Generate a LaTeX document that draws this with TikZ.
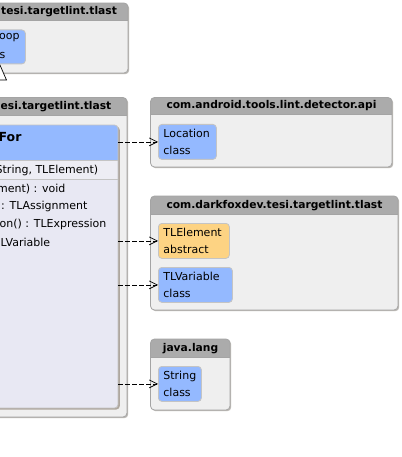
\documentclass[tikz,border=0pt]{standalone}
\usepackage{fontspec}
\setmainfont{DejaVu Sans}
\usetikzlibrary{arrows.meta}
\definecolor{pkghead}{HTML}{ABABAB}
\definecolor{pkgbody}{HTML}{EFEFEF}
\definecolor{pkgborder}{HTML}{A4A4A4}
\definecolor{pkgshadow}{HTML}{BDBAB6}
\definecolor{clsblue}{HTML}{94B9FF}
\definecolor{clsorange}{HTML}{FDD383}
\definecolor{clsborder}{HTML}{C4C4C4}
\definecolor{clslav}{HTML}{E8E8F3}
\definecolor{clslav2}{HTML}{EDEDF4}
\definecolor{clsshadow}{HTML}{AFA79F}
\newcommand\pkgbox[5]{%
  \fill[pkgshadow, rounded corners=4pt] (#1+1.2,#2+1.2) rectangle (#3+1.2,#4+1.2);
  \begin{scope}
    \clip[rounded corners=4pt] (#1,#2) rectangle (#3,#4);
    \fill[pkgbody] (#1,#2) rectangle (#3,#4);
    \fill[pkghead] (#1,#2) rectangle (#3,#5);
    \draw[pkgborder, line width=0.6pt] (#1,#5) -- (#3,#5);
  \end{scope}
  \draw[pkgborder, line width=0.8pt, rounded corners=4pt] (#1,#2) rectangle (#3,#4);
}
\tikzset{
  clsbox/.style={draw=clsborder, line width=0.8pt, rounded corners=3.5pt, anchor=north west,
    inner xsep=5pt, inner ysep=0pt, align=left, font=\fontsize{11}{17}\selectfont},
  dep/.style={draw=black, line width=0.7pt, dash pattern=on 4.5pt off 2.5pt,
    -{Straight Barb[length=8pt,width=8pt,line width=0.7pt]}},
  hdr/.style={font=\bfseries\fontsize{10.7}{12}\selectfont, inner sep=0pt},
  mtxt/.style={font=\fontsize{11}{13}\selectfont, inner sep=0pt, anchor=west},
}
\begin{document}
\begin{tikzpicture}[x=1pt,y=-1pt]
\useasboundingbox (0,0) rectangle (401,457);
\fill[white] (0,0) rectangle (401,457);

% ---- packages
\pkgbox{-20}{3}{128}{73}{20.5}
\pkgbox{-20}{97.5}{127}{417}{115}
\pkgbox{150.5}{97.5}{392}{167}{114.5}
\pkgbox{150.5}{196}{398}{310}{214}
\pkgbox{150.5}{339}{230}{410}{357}

\node[hdr, anchor=west] (h1) at (1,12) {tesi.targetlint.tlast};
\node[hdr, anchor=west] (h2) at (0.5,107) {esi.targetlint.tlast};
\node[hdr] (h3) at (271.5,106) {com.android.tools.lint.detector.api};
\node[hdr] (h4) at (274.5,205.5) {com.darkfoxdev.tesi.targetlint.tlast};
\node[hdr] (h5) at (190.5,348.5) {java.lang};

% ---- top package class (clipped)
\node[clsbox, fill=clsblue, text width=50pt, minimum height=34pt] (loop) at (-35,29.5) {};
\node[mtxt] (loopa) at (-1,38) {oop};
\node[mtxt] (loopb) at (-0.5,55) {s};
\coordinate (tip) at (-0.5,64);
\draw[line width=0.7pt, fill=white] (tip) -- ++(7,16) -- ++(-15,0) -- cycle;

% ---- For class
\fill[clsshadow, rounded corners=3.5pt] (-20,126.5) rectangle (119.8,409.5);
\begin{scope}
  \clip[rounded corners=3.5pt] (-20,125) rectangle (118,408);
  \fill[clslav] (-20,125) rectangle (118,408);
  \fill[clsblue] (-20,125) rectangle (118,160.5);
  \fill[clslav2] (-20,160.5) rectangle (118,179.5);
  \draw[clsborder, line width=0.8pt] (-20,160.5) -- (118,160.5);
  \draw[clsborder, line width=0.8pt] (-20,179.5) -- (118,179.5);
\end{scope}
\draw[clsborder, line width=0.8pt, rounded corners=3.5pt] (-20,125) rectangle (118,408);
\node[inner sep=0pt, minimum width=138pt, minimum height=283pt, anchor=north west] (C) at (-20,125) {};

\node[mtxt, font=\bfseries\fontsize{12.5}{14}\selectfont] (forname) at (-1.5,137) {For};
\node[mtxt] (ctor) at (-4.5,170) {String, TLElement)};
\node[mtxt] (m1) at (-3,189) {ment) : void};
\node[mtxt] (m2) at (1,206.5) {: TLAssignment};
\node[mtxt] (m3) at (-0.5,224) {on() : TLExpression};
\node[mtxt] (m4) at (0.5,242) {LVariable};

% ---- target classes
\node[clsbox, fill=clsblue, text width=48pt, minimum height=35pt] (loc) at (158,124) {Location\\class};
\node[clsbox, fill=clsorange, text width=61pt, minimum height=35pt] (tle) at (158,223) {TLElement\\abstract};
\node[clsbox, fill=clsblue, text width=64pt, minimum height=35pt] (tlv) at (158,267) {TLVariable\\class};
\node[clsbox, fill=clsblue, text width=33pt, minimum height=35pt] (str) at (158,366) {String\\class};

% ---- dependencies
\draw[dep] (C.east |- loc.west) -- (loc.west);
\draw[dep] (C.east |- tle.west) -- (tle.west);
\draw[dep] (C.east |- tlv.west) -- (tlv.west);
\draw[dep] (C.east |- str.west) -- (str.west);
\end{tikzpicture}
\end{document}
